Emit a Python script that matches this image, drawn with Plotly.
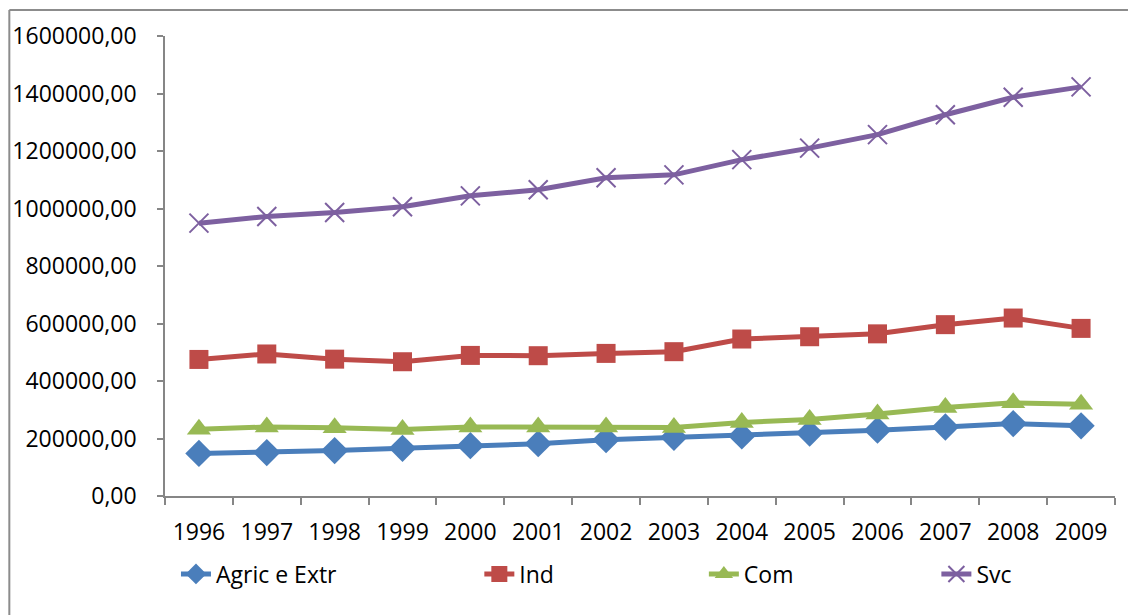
import plotly.graph_objects as go

years = ["1996", "1997", "1998", "1999", "2000", "2001", "2002",
         "2003", "2004", "2005", "2006", "2007", "2008", "2009"]

agric_extr = [148000, 151000, 158000, 166000, 175000, 182000, 196000,
              204000, 209000, 219000, 229000, 240000, 252000, 244000]
ind = [475000, 494000, 476000, 467000, 489000, 488000, 496000,
       502000, 546000, 554000, 564000, 596000, 619000, 583000]
com = [232000, 240000, 237000, 231000, 240000, 240000, 240000,
       238000, 256000, 266000, 285000, 308000, 324000, 319000]
svc = [949000, 972000, 986000, 1006000, 1044000, 1065000, 1107000,
       1117000, 1170000, 1210000, 1257000, 1326000, 1387000, 1423000]

series = [
    ("Agric e Extr", agric_extr, "#4A7EBB", "diamond", 21, "legend"),
    ("Ind", ind, "#BE4B48", "square", 19, "legend2"),
    ("Com", com, "#98B954", "triangle-up", 21, "legend3"),
    ("Svc", svc, "#7D60A0", "x-thin", 19, "legend4"),
]

W, H = 1129, 616
L, R, T, B = 163, 14, 36, 120
plot_w = W - L - R
plot_h = H - T - B


def px_x(x):
    return (x - L) / plot_w


def px_y(y):
    return (H - B - y) / plot_h


fig = go.Figure()
for name, vals, color, sym, size, leg in series:
    if sym == "x-thin":
        marker = dict(symbol=sym, size=size, color=color,
                      line=dict(color=color, width=2))
    else:
        marker = dict(symbol=sym, size=size, color=color,
                      line=dict(width=0))
    fig.add_trace(go.Scatter(
        x=years, y=vals, name=name, mode="lines+markers",
        line=dict(color=color, width=5),
        marker=marker, legend=leg,
    ))

font_family = "Open Sans"
font_size = 23
axis_col = "#868686"

legend_text_x = [216, 520, 745, 978]
legend_common = dict(
    orientation="h", yanchor="middle", xanchor="left",
    y=px_y(574), font=dict(family=font_family, size=font_size, color="#000000"),
    bgcolor="rgba(0,0,0,0)", itemwidth=30,
)
legends = {}
for key, tx in zip(["legend", "legend2", "legend3", "legend4"], legend_text_x):
    legends[key] = dict(legend_common, x=px_x(tx - 42))

fig.update_layout(
    width=W, height=H,
    margin=dict(l=L, r=R, t=T, b=B),
    paper_bgcolor="#FFFFFF", plot_bgcolor="#FFFFFF",
    separators=", ",
    font=dict(family=font_family, size=font_size, color="#000000"),
    showlegend=True,
    **legends,
)

fig.update_xaxes(
    type="category", range=[-0.5, 13.5],
    showgrid=False, zeroline=False,
    showline=True, linecolor=axis_col, linewidth=1.5,
    ticks="outside", tickson="boundaries", ticklen=7,
    tickcolor=axis_col, tickwidth=1.5,
    ticklabelstandoff=15,
    tickfont=dict(family=font_family, size=font_size, color="#000000"),
)
fig.update_yaxes(
    range=[0, 1600000], dtick=200000, tick0=0,
    tickformat=".2f",
    showgrid=False, zeroline=False,
    showline=True, linecolor=axis_col, linewidth=1.5,
    ticks="outside", ticklen=6, tickcolor=axis_col, tickwidth=1.5,
    ticklabelstandoff=16,
    tickfont=dict(family=font_family, size=font_size, color="#000000"),
)

# outer chart frame: top and left edges
frame = dict(color="#8C8C8C", width=2)
fig.add_shape(type="line", xref="paper", yref="paper",
              x0=px_x(7), x1=px_x(W - 1), y0=px_y(10), y1=px_y(10),
              line=frame, layer="below")
fig.add_shape(type="line", xref="paper", yref="paper",
              x0=px_x(7), x1=px_x(7), y0=px_y(10), y1=px_y(H - 1),
              line=frame, layer="below")

fig.write_html("out.html")
